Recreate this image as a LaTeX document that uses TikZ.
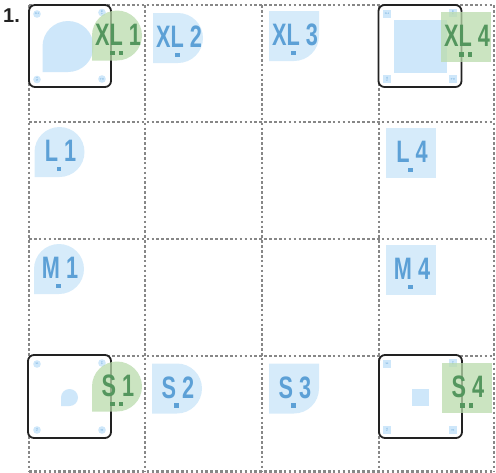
\documentclass[tikz,border=0pt]{standalone}
\usepackage{fontspec}
\setmainfont{Liberation Sans}
\newfontfamily\labfont{Liberation Sans}[FakeStretch=0.7]
\definecolor{lblue}{RGB}{214,235,250}
\definecolor{iblue}{RGB}{206,231,250}
\definecolor{tblue}{RGB}{92,160,214}
\definecolor{gfill}{RGB}{186,219,172}
\definecolor{tgreen}{RGB}{84,150,94}
\definecolor{gridc}{RGB}{135,135,135}
\definecolor{boxc}{RGB}{34,34,34}
\tikzset{
 gridline/.style={draw=gridc, line width=2.5pt, dash pattern=on 2.6pt off 2.3pt},
 cardbox/.style={draw=boxc, line width=1.8pt, rounded corners=6pt, fill=white, inner sep=0pt},
 bluefill/.style={fill=lblue},
 innerfill/.style={fill=iblue},
 greenfill/.style={fill=gfill, fill opacity=0.75},
 labtext/.style={inner sep=0pt, font=\labfont\bfseries\fontsize{31}{31}\selectfont},
 bluelab/.style={labtext, text=tblue},
 greenlab/.style={labtext, text=tgreen},
 icontext/.style={inner sep=0pt, font=\fontsize{2.4}{2.4}\selectfont, text=tblue},
}
% shapes: centre x, centre y, half size, style (image coordinates, y downwards)
\newcommand\shTear[4]{\fill[#4] ({#1-#3},{#2+#3}) -- ({#1-#3},#2) arc[start angle=180,end angle=-90,radius=#3pt] -- cycle;}
\newcommand\shD[4]{\fill[#4] ({#1-#3},{#2+#3}) -- ({#1-#3},{#2-#3}) -- (#1,{#2-#3}) arc[start angle=90,end angle=-90,radius=#3pt] -- cycle;}
\newcommand\shBR[4]{\fill[#4] ({#1-#3},{#2+#3}) -- ({#1-#3},{#2-#3}) -- ({#1+#3},{#2-#3}) -- ({#1+#3},#2) arc[start angle=0,end angle=-90,radius=#3pt] -- cycle;}
\newcommand\shSq[4]{\fill[#4] ({#1-#3},{#2-#3}) rectangle ({#1+#3},{#2+#3});}
% labels: name, centre x, centre y, text
\newcommand\blab[4]{\node[bluelab] (#1) at ({#2+1},{#3-1}) {#4};
 \fill[tblue] ({#2-0.5-2.3},{#3+17-2.3}) rectangle ++(4.6,4.6);}
\newcommand\glab[4]{\node[greenlab] (#1) at ({#2+1},{#3-1}) {#4};
 \fill[tgreen] ({#2-4.5-2.3},{#3+17.5-2.3}) rectangle ++(4.6,4.6);
 \fill[tgreen] ({#2+4-2.3},{#3+17.5-2.3}) rectangle ++(4.6,4.6);}
% corner icons: name, x, y, rotation, text
\newcommand\icoC[5]{\fill[innerfill] (#2,#3) circle[radius=3.8pt]; \node[icontext, rotate=#4] (#1) at (#2,#3) {#5};}
\newcommand\icoS[5]{\fill[innerfill] ({#2-4},{#3-4}) rectangle ({#2+4},{#3+4}); \node[icontext, rotate=#4] (#1) at (#2,#3) {#5};}
\begin{document}
\begin{tikzpicture}[x=1pt, y=-1pt]
\useasboundingbox (0,0) rectangle (496,472);
% number
\node[anchor=base west, inner sep=0pt, font=\bfseries\fontsize{20}{20}\selectfont, text=boxc] (num) at (3,22.5) {1.};
% grid
\foreach \x in {29,145,262,379,494} \draw[gridline] (\x,5) -- (\x,471.5);
\foreach \y in {5,122,239,356,471.5} \draw[gridline] (29,\y) -- (494,\y);
% cards
\node[cardbox, minimum width=82pt, minimum height=82pt] (cardXLa) at (70,46) {};
\node[cardbox, minimum width=83pt, minimum height=82pt] (cardXLd) at (420,46) {};
\node[cardbox, minimum width=83pt, minimum height=83pt] (cardSa) at (69.5,396.5) {};
\node[cardbox, minimum width=83pt, minimum height=83pt] (cardSd) at (420.5,396.5) {};
% inner shapes
\shTear{68}{46.5}{25.5}{innerfill}
\shSq{420.5}{46.5}{26.5}{innerfill}
\shTear{69.5}{397.5}{8.5}{innerfill}
\shSq{420.5}{397}{8.5}{innerfill}
% corner icons
\icoC{ia1}{37}{14}{0}{XL1}
\icoC{ia2}{102}{12.5}{-90}{XL1}
\icoC{ia3}{37}{79.5}{90}{XL1}
\icoC{ia4}{102}{79}{180}{XL1}
\icoS{ib1}{387}{14}{0}{XL4}
\icoS{ib2}{453}{12.5}{-90}{XL4}
\icoS{ib3}{387}{79}{90}{XL4}
\icoS{ib4}{453}{79}{180}{XL4}
\icoC{ic1}{37}{364}{0}{S1}
\icoC{ic2}{102}{363}{-90}{S1}
\icoC{ic3}{37}{430}{90}{S1}
\icoC{ic4}{102}{430}{180}{S1}
\icoS{id1}{387}{364}{0}{S4}
\icoS{id2}{453}{363}{-90}{S4}
\icoS{id3}{387}{430}{90}{S4}
\icoS{id4}{453}{430}{180}{S4}
% blue labels
\shD{178}{38}{25}{bluefill}      \blab{xlb}{178}{38}{XL 2}
\shBR{294}{36}{25}{bluefill}     \blab{xlc}{294}{36}{XL 3}
\shTear{59.5}{152}{25}{bluefill} \blab{la}{59.5}{152}{L 1}
\shSq{411}{153}{25}{bluefill}    \blab{ld}{411}{153}{L 4}
\shTear{59}{269}{25}{bluefill}   \blab{ma}{59}{269}{M 1}
\shSq{411}{270}{25}{bluefill}    \blab{md}{411}{270}{M 4}
\shD{177}{388.5}{25}{bluefill}   \blab{sb}{177}{388.5}{S 2}
\shBR{294}{388.5}{25}{bluefill}  \blab{sc}{294}{388.5}{S 3}
% green labels
\shTear{117}{35.5}{25}{greenfill} \glab{xla}{117}{35.5}{XL 1}
\shSq{466}{37}{25}{greenfill}     \glab{xld}{466}{37}{XL 4}
\shTear{117}{386.5}{25}{greenfill} \glab{sa}{117}{386.5}{S 1}
\shSq{467}{388}{25}{greenfill}    \glab{sd}{467}{388}{S 4}
\end{tikzpicture}
\end{document}
